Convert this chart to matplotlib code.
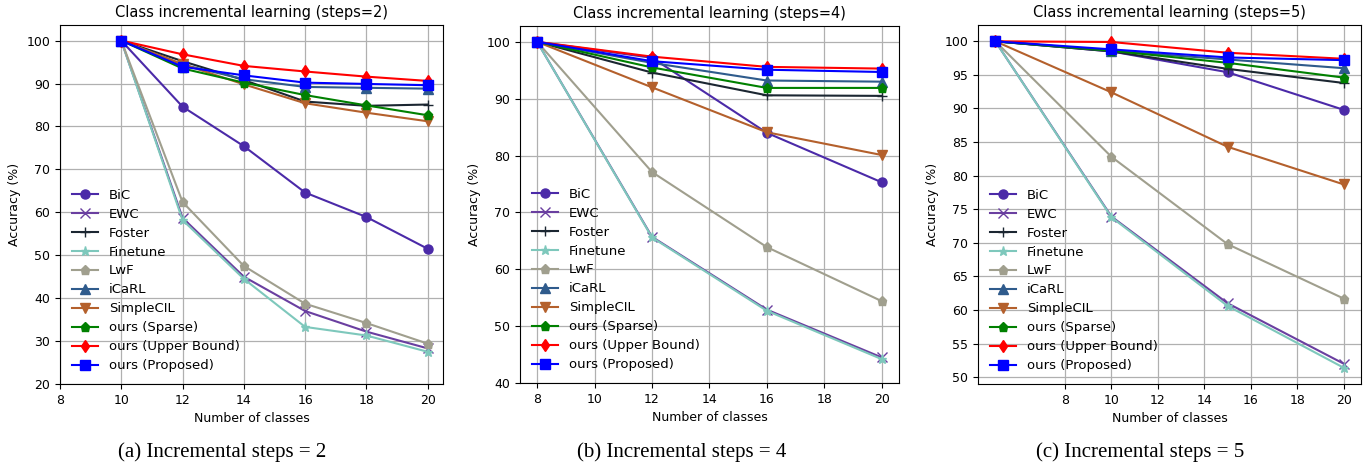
import numpy as np
import matplotlib
matplotlib.use("Agg")
import matplotlib.pyplot as plt

# Method names and styles (legend order)
methods = ["BiC", "EWC", "Foster", "Finetune", "LwF", "iCaRL", "SimpleCIL",
           "ours (Sparse)", "ours (Upper Bound)", "ours (Proposed)"]
markers = ["o", "x", "+", "*", "p", "^", "v", "p", "d", "s"]
colors = ["#4b2aa8", "#6a3fa0", "#1b2631", "#7ec8bc", "#a09f8e", "#2f5b8c",
          "#b4602c", "green", "red", "blue"]

# steps = 2
classes_2 = [10, 12, 14, 16, 18, 20]
acc_2 = {
    "BiC": [100, 84.6, 75.4, 64.6, 58.9, 51.5],
    "EWC": [100, 58.7, 45.0, 37.0, 32.2, 28.3],
    "Foster": [100, 95.2, 90.8, 85.8, 84.8, 85.1],
    "Finetune": [100, 58.2, 44.5, 33.3, 31.3, 27.5],
    "LwF": [100, 62.4, 47.5, 38.7, 34.2, 29.4],
    "iCaRL": [100, 94.4, 91.0, 89.2, 89.0, 88.8],
    "SimpleCIL": [100, 94.5, 89.8, 85.4, 83.2, 81.2],
    "ours (Sparse)": [100, 93.5, 90.2, 87.3, 84.9, 82.6],
    "ours (Upper Bound)": [100, 96.8, 94.1, 92.8, 91.6, 90.6],
    "ours (Proposed)": [100, 93.9, 91.9, 90.2, 89.9, 89.6],
}

# steps = 4
classes_4 = [8, 12, 16, 20]
acc_4 = {
    "BiC": [100, 97.2, 84.0, 75.3],
    "EWC": [100, 65.7, 52.9, 44.5],
    "Foster": [100, 94.6, 90.6, 90.5],
    "Finetune": [100, 65.6, 52.7, 44.2],
    "LwF": [100, 77.1, 63.9, 54.4],
    "iCaRL": [100, 96.3, 93.2, 93.0],
    "SimpleCIL": [100, 92.0, 84.1, 80.1],
    "ours (Sparse)": [100, 95.5, 91.9, 91.9],
    "ours (Upper Bound)": [100, 97.4, 95.6, 95.3],
    "ours (Proposed)": [100, 96.6, 95.1, 94.7],
}

# steps = 5
classes_5 = [5, 10, 15, 20]
acc_5 = {
    "BiC": [100, 98.5, 95.4, 89.8],
    "EWC": [100, 73.9, 61.0, 52.0],
    "Foster": [100, 98.5, 95.9, 93.8],
    "Finetune": [100, 73.8, 60.6, 51.4],
    "LwF": [100, 82.8, 69.8, 61.7],
    "iCaRL": [100, 98.6, 97.3, 96.0],
    "SimpleCIL": [100, 92.4, 84.3, 78.7],
    "ours (Sparse)": [100, 98.6, 96.8, 94.6],
    "ours (Upper Bound)": [100, 99.9, 98.3, 97.4],
    "ours (Proposed)": [100, 98.8, 97.6, 97.2],
}

fig = plt.figure(figsize=(13.72, 4.71), dpi=100)
ax1 = fig.add_axes([0.0437, 0.1847, 0.2792, 0.7622])
ax2 = fig.add_axes([0.3790, 0.1868, 0.2762, 0.7580])
ax3 = fig.add_axes([0.7128, 0.1847, 0.2792, 0.7622])

panels = [(ax1, classes_2, acc_2, 2), (ax2, classes_4, acc_4, 4), (ax3, classes_5, acc_5, 5)]
for ax, xs, acc, steps in panels:
    for m, mk, c in zip(methods, markers, colors):
        ax.plot(xs, acc[m], marker=mk, color=c, label=m, linewidth=1.5, markersize=6.5)
    ax.grid(True, color="#b0b0b0", linewidth=0.9)
    ax.set_xticks(range(8, 21, 2))
    ax.set_title("Class incremental learning (steps=%d)" % steps, fontsize=10.5)
    ax.set_xlabel("Number of classes", fontsize=9)
    ax.set_ylabel("Accuracy (%)", fontsize=9)
    ax.tick_params(labelsize=9)
    ax.legend(loc="lower left", frameon=False, fontsize=9.5, labelspacing=0.45)

ax1.set_xlim(left=8)
ax1.set_ylim(bottom=20)
ax2.set_ylim(bottom=40)
ax3.set_yticks(range(50, 101, 5))

captions = ["(a) Incremental steps = 2", "(b) Incremental steps = 4", "(c) Incremental steps = 5"]
cx = [222, 682, 1140]
for t, x in zip(captions, cx):
    fig.text(x / 1372, 0.040, t, ha="center", va="center", fontsize=15,
             family="Liberation Serif")

fig.savefig("out.png", dpi=100)
